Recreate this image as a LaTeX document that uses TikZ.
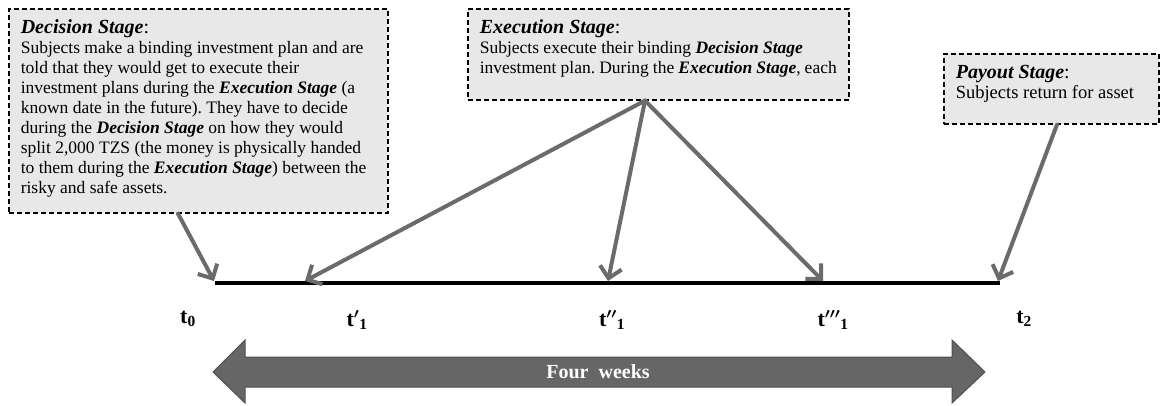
\documentclass[tikz,border=0pt]{standalone}
\usepackage{fontspec}
\setmainfont{Liberation Serif}
\usetikzlibrary{arrows.meta}
\frenchspacing
\definecolor{boxfill}{HTML}{E8E8E8}
\definecolor{argray}{HTML}{6B6B6B}
\definecolor{bigfill}{HTML}{666666}
\definecolor{bigdraw}{HTML}{505050}
\newcommand{\bi}[1]{\textbf{\textit{#1}}}
\newcommand{\ttl}[1]{{\fontsize{20}{20}\selectfont\bi{#1}:}}
\begin{document}
\begin{tikzpicture}[x=1pt,y=-1pt,
  stagebox/.style={draw=black, dash pattern=on 5pt off 3pt, line width=1.6pt, fill=boxfill,
    inner xsep=12pt, inner ysep=0pt, anchor=north west,
    font=\fontsize{17.5}{20}\selectfont, align=left},
  conn/.style={draw=argray, line width=4pt, line cap=round,
    -{Straight Barb[length=11pt,width=22pt]}},
  tlabel/.style={font=\bfseries\fontsize{22}{24}\selectfont, inner sep=0pt},
  bigarrow/.style={fill=bigfill, draw=bigdraw, line width=1pt, line join=miter},
  bigtext/.style={text=white, font=\bfseries\fontsize{20}{22}\selectfont}
]
\useasboundingbox (0,0) rectangle (1164,405);

% stage boxes
\node[stagebox] (dec) at (8,8) {\parbox[c][204pt][t]{355pt}{\vspace*{11pt}%
\ttl{Decision Stage}\\
Subjects make a binding investment plan and are\\
told that they would get to execute their\\
investment plans during the \bi{Execution Stage} (a\\
known date in the future). They have to decide\\
during the \bi{Decision Stage} on how they would\\
split 2,000 TZS (the money is physically handed\\
to them during the \bi{Execution Stage}) between the\\
risky and safe assets.}};

\node[stagebox] (exec) at (467,8) {\parbox[c][91pt][t]{357pt}{\vspace*{11pt}%
\ttl{Execution Stage}\\
Subjects execute their binding \bi{Decision Stage}\\
investment plan. During the \bi{Execution Stage}, each}};

\node[stagebox] (pay) at (943,53) {\parbox[c][70pt][t]{191pt}{\vspace*{11pt}%
\ttl{Payout Stage}\\
{\fontsize{18.5}{20}\selectfont Subjects return for asset}}};

% timeline
\coordinate (T0) at (215,283);
\coordinate (T1a) at (305,283);
\coordinate (T1b) at (608,283);
\coordinate (T1c) at (823,283);
\coordinate (T2) at (1000,283);
\draw[black, line width=3.5pt] (T0) -- (T2);

% connectors
\draw[conn] ([xshift=170pt]dec.south west) -- ([xshift=-1pt,yshift=2pt]T0);
\draw[conn] ([xshift=178pt]exec.south west) -- ([yshift=2pt]T1a);
\draw[conn] ([xshift=178pt]exec.south west) -- ([yshift=2pt]T1b);
\draw[conn] ([xshift=178pt]exec.south west) -- ([yshift=2pt]T1c);
\draw[conn] ([xshift=114pt]pay.south west) -- ([xshift=-2pt,yshift=2pt]T2);

% labels
\node[tlabel] (l0) at (188,319) {t\textsubscript{0}};
\node[tlabel] (l1) at (357,320) {t{\boldmath$'$}\textsubscript{1}};
\node[tlabel] (l2) at (612,320) {t{\boldmath$''$}\textsubscript{1}};
\node[tlabel] (l3) at (833,320) {t{\boldmath$'''$}\textsubscript{1}};
\node[tlabel] (l4) at (1024,319) {t\textsubscript{2}};

% four weeks arrow
\path[bigarrow] (213,372) -- (245,340) -- (245,357) -- (952,357) -- (952,340)
  -- (985,372) -- (952,403) -- (952,387) -- (245,387) -- (245,403) -- cycle;
\node[bigtext] (fw) at (598,372) {Four\ \ weeks};
\end{tikzpicture}
\end{document}
